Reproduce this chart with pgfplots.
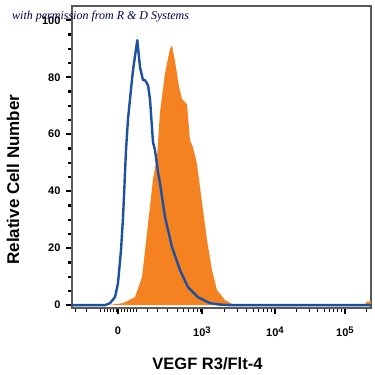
\documentclass[border=0pt]{standalone}
\usepackage{pgfplots}
\pgfplotsset{compat=1.18}
\usepackage{fontspec}
\setmainfont{Liberation Sans}
\newfontfamily\wmfont{Liberation Serif}
\definecolor{isoblue}{RGB}{30,80,160}
\definecolor{vorange}{RGB}{245,130,32}
\newcommand{\expsup}[1]{\raisebox{0.55ex}{\fontsize{9.5}{10}\selectfont #1}}
\begin{document}
\begin{tikzpicture}[x=1pt,y=1pt]
\path[use as bounding box] (0,0) rectangle (375,375);
\begin{axis}[
  at={(72pt,67pt)}, anchor=south west, scale only axis,
  width=299pt, height=302pt,
  xmin=72, xmax=371, ymin=-1, ymax=105,
  axis line style={gray!70!black, line width=1.2pt},
  xtick={118,202,275,345},
  xticklabels={0,10\expsup{3},10\expsup{4},10\expsup{5}},
  minor xtick={75,86,100,104,107,110,113,116,121,124,127,130,133,136,147,157,167,177,183,188,193,197,200,224,237,246,253,258,263,267,271,296,309,317,324,329,333,337,341,366},
  ytick={0,20,40,60,80,100},
  minor ytick={5,10,15,25,30,35,45,50,55,65,70,75,85,90,95},
  tick align=outside, tick pos=left,
  major tick length=6pt, minor tick length=4pt,
  every major tick/.style={black, line width=1.2pt},
  every minor tick/.style={black, line width=0.9pt},
  y tick style={line width=2.2pt},
  /pgf/number format/assume math mode=true,
  ticklabel style={font=\bfseries\fontsize{11}{13}\selectfont},
  xticklabel style={yshift=-9pt},
  yticklabel style={xshift=-2pt},
  xlabel={VEGF R3/Flt-4},
  ylabel={Relative Cell Number},
  xlabel style={font=\bfseries\fontsize{16.5}{18}\selectfont, at={(axis description cs:0.453,0)}, anchor=center, yshift=-56pt},
  ylabel style={font=\bfseries\fontsize{17}{19}\selectfont, at={(axis description cs:0,0.425)}, anchor=center, yshift=59pt},
  clip=false,
]
\addplot[fill=vorange, draw=none] coordinates {
(108,0) (123,0.7) (135,2.8) (142,9.8) (147,25.3) (153,44.2) (157,51.9) (160,67.7) (165,81.4) (170,90) (172,91.2) (175,85.6) (179,76.8) (182,72.3) (187,70.5) (190,57.9) (193,55.4) (195,52.6) (197,49.5) (202,36.1) (207,22.8) (212,12.3) (217,5.3) (225,1.75) (233,0.3) (240,0)
} \closedcycle;
\addplot[fill=vorange, draw=none] coordinates {(364,0) (367,1.2) (371,1.2) (371,0)} \closedcycle;
\addplot[isoblue, line width=2.4pt, line join=round] coordinates {
(72,0) (105,0) (110,0.7) (115,2.8) (118,7.7) (121,19.3) (123,30.5) (126,54.4) (128,65.3) (130,72.3) (133,82.5) (137.3,93) (140,83.5) (143,79) (145,79) (148,77.2) (150,72.3) (153,57.2) (155,54.4) (158,46.7) (160,42.8) (165,30.9) (172,20.4) (180,12.3) (188,6.3) (198,2.8) (210,0.7) (220,0.2) (230,0) (371,0)
};
\end{axis}
\node[font=\wmfont\itshape\fontsize{12}{14}\selectfont, text=blue!30!black, anchor=west, inner sep=0pt] at (12,358) {with permission from R \& D Systems};
\end{tikzpicture}
\end{document}
